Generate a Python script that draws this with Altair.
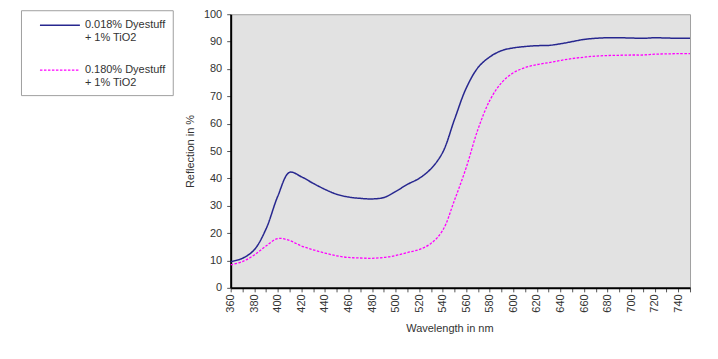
import altair as alt
import pandas as pd

wavelength = [360, 370, 380, 390, 400, 410, 420, 430, 440, 450,
              460, 470, 480, 490, 500, 510, 520, 530, 540, 550,
              560, 570, 580, 590, 600, 610, 620, 630, 640, 650,
              660, 670, 680, 690, 700, 710, 720, 730, 740, 750]

low_dye = [9.6, 10.8, 13.9, 21.5, 33.5, 42.2, 40.6, 38.2, 36.0, 34.2,
           33.2, 32.7, 32.5, 33.0, 35.2, 37.8, 40.0, 43.5, 49.5, 61.5,
           73.0, 80.5, 84.4, 86.7, 87.7, 88.2, 88.5, 88.6, 89.2, 90.0,
           90.8, 91.2, 91.4, 91.4, 91.3, 91.2, 91.4, 91.3, 91.2, 91.2]

high_dye = [8.4, 9.6, 12.0, 15.3, 18.0, 17.3, 15.3, 13.9, 12.7, 11.7,
            11.1, 10.9, 10.8, 11.1, 11.8, 12.9, 14.0, 16.2, 21.0, 32.0,
            44.0, 58.0, 68.5, 75.0, 78.6, 80.5, 81.6, 82.3, 83.1, 83.8,
            84.3, 84.7, 84.9, 85.0, 85.1, 85.1, 85.4, 85.5, 85.6, 85.6]

series_names = ["0.018% Dyestuff|\u00a0+ 1% TiO2",
                "0.180% Dyestuff|\u00a0\u00a0+ 1% TiO2"]
series_colors = ["#27278f", "#ff00ff"]

rows = []
for w, a, b in zip(wavelength, low_dye, high_dye):
    rows.append({"wl": w, "val": a, "series": series_names[0]})
    rows.append({"wl": w, "val": b, "series": series_names[1]})
df = pd.DataFrame(rows)

x_ticks = list(range(360, 751, 10))
y_ticks = list(range(0, 101, 10))

chart = alt.Chart(df).mark_line(interpolate="catmull-rom").encode(
    x=alt.X("wl:Q",
            scale=alt.Scale(domain=[360, 750], nice=False, zero=False),
            axis=alt.Axis(title="Wavelength in nm", values=x_ticks,
                          labelExpr="datum.value % 20 == 0 ? datum.label : ''",
                          labelAngle=270, tickSize=4, labelPadding=2,
                          titlePadding=10, titleX=219, grid=False)),
    y=alt.Y("val:Q",
            scale=alt.Scale(domain=[0, 100], nice=False),
            axis=alt.Axis(title="Reflection in %", values=y_ticks,
                          tickSize=4, labelPadding=5, titlePadding=8, grid=False)),
    color=alt.Color("series:N",
                    scale=alt.Scale(domain=series_names, range=series_colors),
                    legend=alt.Legend(title="\u00a0", titleOrient="left", titlePadding=17,
                                      titleFontSize=11,
                                      orient="none", legendX=-210, legendY=-4,
                                      labelExpr="split(datum.label, '|')",
                                      symbolType="M-2.857,0H2.857", symbolSize=196,
                                      symbolStrokeWidth=1.3, rowPadding=19,
                                      padding=7, symbolOffset=7, labelOffset=17,
                                      strokeColor="#a0a0a0", fillColor="white",
                                      labelFontSize=11, labelFont="Liberation Sans",
                                      labelColor="#333333", labelLimit=300)),
    strokeDash=alt.StrokeDash("series:N",
                              scale=alt.Scale(domain=series_names, range=[[1, 0], [2.5, 1.5]]),
                              legend=None),
    strokeWidth=alt.StrokeWidth("series:N",
                                scale=alt.Scale(domain=series_names, range=[1.5, 1.3]),
                                legend=None),
).properties(
    width=460, height=274,
    autosize=alt.AutoSizeParams(type="none"),
    padding={"left": 223, "top": 6, "right": 20, "bottom": 50},
).configure_view(
    fill="#e2e2e2", stroke="#a0a0a0", strokeWidth=1
).configure_axis(
    domainColor="black", domainWidth=2, tickColor="#555555",
    labelFont="Liberation Sans", labelFontSize=11, labelColor="#333333",
    titleFont="Liberation Sans", titleFontSize=11, titleFontWeight="normal",
    titleColor="#333333"
)

chart.save("out.html", embed_options={"renderer": "svg", "actions": False})
